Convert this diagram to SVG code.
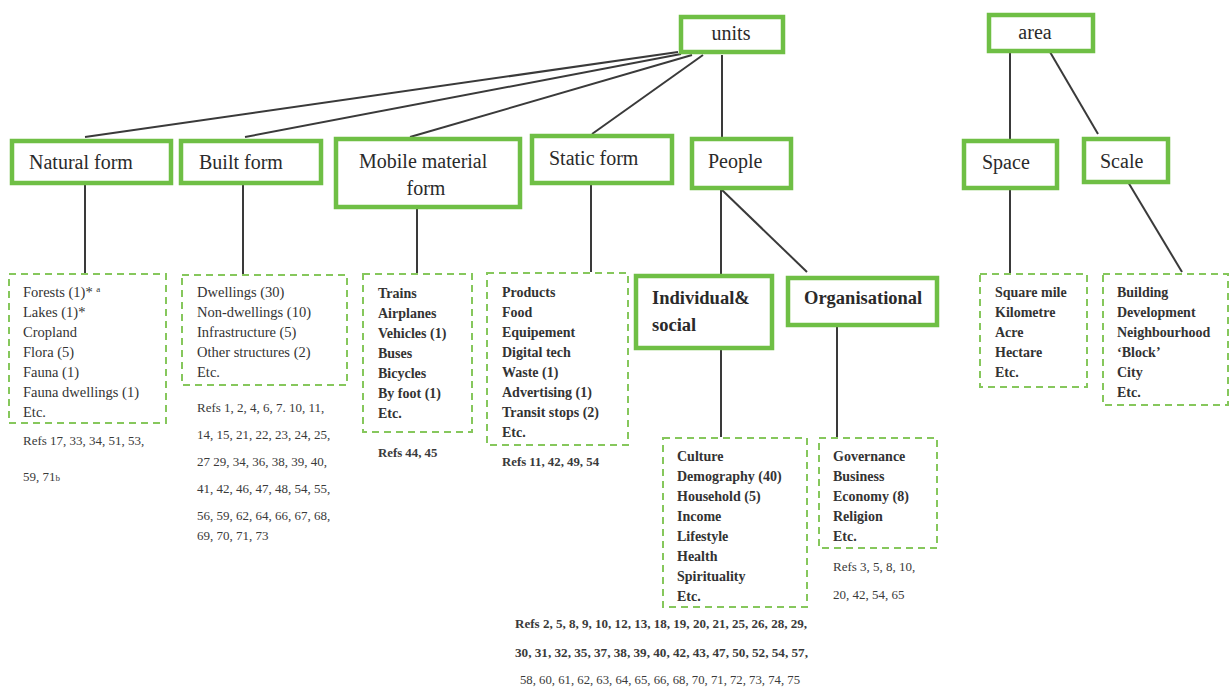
<svg xmlns="http://www.w3.org/2000/svg" width="1231" height="688" viewBox="0 0 1231 688">
<style>
.node{fill:#fff;stroke:#6fbf45;stroke-width:4.5}
.list{fill:#fff;stroke:#86c75c;stroke-width:2;stroke-dasharray:7 5}
.lbl{font-family:"Liberation Serif",serif;font-size:20px;fill:#2a2a2a}
.lb{font-family:"Liberation Serif",serif;font-size:18.5px;font-weight:bold;fill:#2a2a2a}
.it{font-family:"Liberation Serif",serif;font-size:14.5px;fill:#333}
.itb{font-family:"Liberation Serif",serif;font-size:14px;font-weight:bold;fill:#333}
.ref{font-family:"Liberation Serif",serif;font-size:13px;fill:#3a3a3a}
.refb{font-family:"Liberation Serif",serif;font-size:12.8px;font-weight:bold;fill:#3a3a3a}
.c{stroke:#3a3a3a;stroke-width:2;fill:none}
</style>
<rect width="1231" height="688" fill="#fff"/>
<g id="connectors">
<line class="c" x1="678" y1="52" x2="85" y2="137"/>
<line class="c" x1="681" y1="54" x2="245" y2="137"/>
<line class="c" x1="692" y1="55" x2="410" y2="137"/>
<line class="c" x1="703" y1="55" x2="592" y2="134"/>
<line class="c" x1="722" y1="55" x2="722" y2="137"/>
<line class="c" x1="85" y1="183" x2="85" y2="273"/>
<line class="c" x1="243" y1="183" x2="243" y2="274"/>
<line class="c" x1="417" y1="207" x2="417" y2="273"/>
<line class="c" x1="591" y1="183" x2="591" y2="272"/>
<line class="c" x1="721" y1="189" x2="721" y2="274"/>
<line class="c" x1="721" y1="189" x2="807" y2="272"/>
<line class="c" x1="721" y1="348" x2="721" y2="437"/>
<line class="c" x1="837" y1="325" x2="837" y2="437"/>
<line class="c" x1="1010" y1="52" x2="1010" y2="140"/>
<line class="c" x1="1050" y1="52" x2="1098" y2="134"/>
<line class="c" x1="1010" y1="188" x2="1010" y2="273"/>
<line class="c" x1="1128" y1="182" x2="1182" y2="272"/>
</g>
<g id="units"><rect class="node" x="681" y="17" width="102" height="35"/><text class="lbl" x="731" y="40" text-anchor="middle">units</text></g>
<g id="area"><rect class="node" x="989" y="15" width="104" height="36"/><text class="lbl" x="1035" y="39" text-anchor="middle">area</text></g>
<g id="natural-form"><rect class="node" x="12" y="141" width="159" height="42"/><text class="lbl" x="29" y="169">Natural form</text></g>
<g id="built-form"><rect class="node" x="181" y="141" width="140" height="42"/><text class="lbl" x="199" y="169">Built form</text></g>
<g id="mobile-material-form"><rect class="node" x="336" y="139" width="184" height="68"/><text class="lbl" x="359" y="168">Mobile material</text><text class="lbl" x="426" y="195" text-anchor="middle">form</text></g>
<g id="static-form"><rect class="node" x="532" y="136" width="140" height="47"/><text class="lbl" x="549" y="165">Static form</text></g>
<g id="people"><rect class="node" x="692" y="139" width="99" height="49"/><text class="lbl" x="708" y="168">People</text></g>
<g id="space"><rect class="node" x="964" y="141" width="93" height="47"/><text class="lbl" x="982" y="169">Space</text></g>
<g id="scale"><rect class="node" x="1084" y="139" width="84" height="43"/><text class="lbl" x="1100" y="168">Scale</text></g>
<g id="individual-social"><rect class="node" x="636" y="276" width="136" height="72"/><text class="lb" x="652" y="304">Individual&amp;</text><text class="lb" x="652" y="331">social</text></g>
<g id="organisational"><rect class="node" x="788" y="278" width="149" height="47"/><text class="lb" x="804" y="304">Organisational</text></g>
<g id="natural-list">
<rect class="list" x="9" y="274" width="157" height="149"/>
<text class="it" x="23" y="297">Forests (1)* <tspan font-size="9" dy="-5">a</tspan></text>
<text class="it" x="23" y="317">Lakes (1)*</text>
<text class="it" x="23" y="337">Cropland</text>
<text class="it" x="23" y="357">Flora (5)</text>
<text class="it" x="23" y="377">Fauna (1)</text>
<text class="it" x="23" y="397">Fauna dwellings (1)</text>
<text class="it" x="23" y="417">Etc.</text>
<text class="ref" x="23" y="445">Refs 17, 33, 34, 51, 53,</text>
<text class="ref" x="23" y="481">59, 71<tspan font-size="9">b</tspan></text>
</g>
<g id="built-list">
<rect class="list" x="182" y="275" width="165" height="110"/>
<text class="it" x="197" y="297">Dwellings (30)</text>
<text class="it" x="197" y="317">Non-dwellings (10)</text>
<text class="it" x="197" y="337">Infrastructure (5)</text>
<text class="it" x="197" y="357">Other structures (2)</text>
<text class="it" x="197" y="377">Etc.</text>
<text class="ref" x="197" y="412">Refs 1, 2, 4, 6, 7. 10, 11,</text>
<text class="ref" x="197" y="439">14, 15, 21, 22, 23, 24, 25,</text>
<text class="ref" x="197" y="466">27 29, 34, 36, 38, 39, 40,</text>
<text class="ref" x="197" y="493">41, 42, 46, 47, 48, 54, 55,</text>
<text class="ref" x="197" y="520">56, 59, 62, 64, 66, 67, 68,</text>
<text class="ref" x="197" y="540">69, 70, 71, 73</text>
</g>
<g id="mobile-list">
<rect class="list" x="363" y="274" width="109" height="158"/>
<text class="itb" x="378" y="298">Trains</text>
<text class="itb" x="378" y="318">Airplanes</text>
<text class="itb" x="378" y="338">Vehicles (1)</text>
<text class="itb" x="378" y="358">Buses</text>
<text class="itb" x="378" y="378">Bicycles</text>
<text class="itb" x="378" y="398">By foot (1)</text>
<text class="itb" x="378" y="418">Etc.</text>
<text class="refb" x="378" y="457">Refs 44, 45</text>
</g>
<g id="static-list">
<rect class="list" x="487" y="273" width="141" height="172"/>
<text class="itb" x="502" y="297">Products</text>
<text class="itb" x="502" y="317">Food</text>
<text class="itb" x="502" y="337">Equipement</text>
<text class="itb" x="502" y="357">Digital tech</text>
<text class="itb" x="502" y="377">Waste (1)</text>
<text class="itb" x="502" y="397">Advertising  (1)</text>
<text class="itb" x="502" y="417">Transit stops (2)</text>
<text class="itb" x="502" y="437">Etc.</text>
<text class="refb" x="502" y="466">Refs 11, 42, 49, 54</text>
</g>
<g id="individual-list">
<rect class="list" x="663" y="438" width="144" height="169"/>
<text class="itb" x="677" y="461">Culture</text>
<text class="itb" x="677" y="481">Demography (40)</text>
<text class="itb" x="677" y="501">Household (5)</text>
<text class="itb" x="677" y="521">Income</text>
<text class="itb" x="677" y="541">Lifestyle</text>
<text class="itb" x="677" y="561">Health</text>
<text class="itb" x="677" y="581">Spirituality</text>
<text class="itb" x="677" y="601">Etc.</text>
<text class="refb" x="515" y="628" textLength="292" lengthAdjust="spacingAndGlyphs">Refs 2, 5, 8, 9, 10, 12, 13, 18, 19, 20, 21, 25, 26, 28, 29,</text>
<text class="refb" x="515" y="657" textLength="293" lengthAdjust="spacingAndGlyphs">30, 31, 32, 35, 37, 38, 39, 40,  42, 43, 47, 50, 52, 54, 57,</text>
<text class="ref" x="520" y="684" textLength="280" lengthAdjust="spacingAndGlyphs">58, 60, 61, 62, 63, 64, 65, 66, 68, 70, 71, 72, 73, 74, 75</text>
</g>
<g id="organisational-list">
<rect class="list" x="819" y="438" width="118" height="110"/>
<text class="itb" x="833" y="461">Governance</text>
<text class="itb" x="833" y="481">Business</text>
<text class="itb" x="833" y="501">Economy (8)</text>
<text class="itb" x="833" y="521">Religion</text>
<text class="itb" x="833" y="541">Etc.</text>
<text class="ref" x="833" y="571">Refs 3, 5, 8, 10,</text>
<text class="ref" x="833" y="599">20, 42, 54, 65</text>
</g>
<g id="space-list">
<rect class="list" x="980" y="274" width="107" height="113"/>
<text class="itb" x="995" y="297">Square mile</text>
<text class="itb" x="995" y="317">Kilometre</text>
<text class="itb" x="995" y="337">Acre</text>
<text class="itb" x="995" y="357">Hectare</text>
<text class="itb" x="995" y="377">Etc.</text>
</g>
<g id="scale-list">
<rect class="list" x="1103" y="274" width="125" height="131"/>
<text class="itb" x="1117" y="297">Building</text>
<text class="itb" x="1117" y="317">Development</text>
<text class="itb" x="1117" y="337">Neighbourhood</text>
<text class="itb" x="1117" y="357">‘Block’</text>
<text class="itb" x="1117" y="377">City</text>
<text class="itb" x="1117" y="397">Etc.</text>
</g>
</svg>
